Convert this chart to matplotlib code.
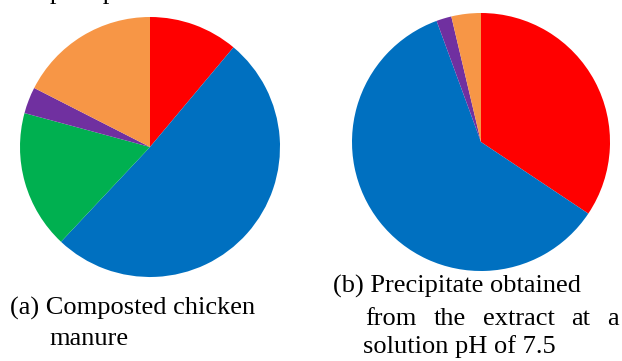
import matplotlib
matplotlib.use("Agg")
import matplotlib.pyplot as plt

# Composition shares (%) for each sample, clockwise from 12 o'clock
manure_shares = [11.1, 50.9, 17.2, 3.3, 17.5]
manure_colors = ["#FF0000", "#0070C0", "#00B050", "#7030A0", "#F79646"]
precip_shares = [34.4, 60.1, 1.9, 3.7]
precip_colors = ["#FF0000", "#0070C0", "#7030A0", "#F79646"]

W, H = 622, 361
DPI = 100
FONT = "Liberation Serif"
FS = 19

fig = plt.figure(figsize=(W / DPI, H / DPI), dpi=DPI)


def pie_axes(cx, cy, r):
    # cx, cy, r in pixels measured from the top-left corner
    ax = fig.add_axes([(cx - r) / W, (H - cy - r) / H, 2 * r / W, 2 * r / H])
    return ax


def draw_pie(ax, shares, cols):
    ax.pie(shares, colors=cols, startangle=90, counterclock=False,
           radius=1, wedgeprops=dict(linewidth=0))
    ax.set_xlim(-1, 1)
    ax.set_ylim(-1, 1)
    ax.set_aspect("equal")
    ax.axis("off")


ax1 = pie_axes(150, 147, 130)
draw_pie(ax1, manure_shares, manure_colors)

ax2 = pie_axes(481, 142, 129)
draw_pie(ax2, precip_shares, precip_colors)


def px_text(x, y, s, **kw):
    # x, y: left edge and baseline in pixels from the top-left corner
    return fig.text(x / W, 1 - y / H, s, family=FONT, fontsize=FS,
                    va="baseline", ha="left", **kw)


# running text from the line above the figure (only descenders show)
px_text(11, -1, "the precipitate obtained")

# caption (a)
px_text(10, 315, "(a) Composted chicken")
px_text(49, 345, "manure")

# caption (b)
px_text(333, 293, "(b) Precipitate obtained")
px_text(363, 353, "solution pH of 7.5")

# justified middle line of caption (b)
words = ["from", "the", "extract", "at", "a"]
x0, x1, ybase = 365, 619, 325
fig.canvas.draw()
renderer = fig.canvas.get_renderer()
widths = []
tmp = []
for w in words:
    t = px_text(0, ybase, w)
    widths.append(t.get_window_extent(renderer=renderer).width)
    tmp.append(t)
for t in tmp:
    t.remove()
gap = (x1 - x0 - sum(widths)) / (len(words) - 1)
x = x0
for w, wd in zip(words, widths):
    px_text(x, ybase, w)
    x += wd + gap

fig.savefig("out.png", dpi=DPI)
